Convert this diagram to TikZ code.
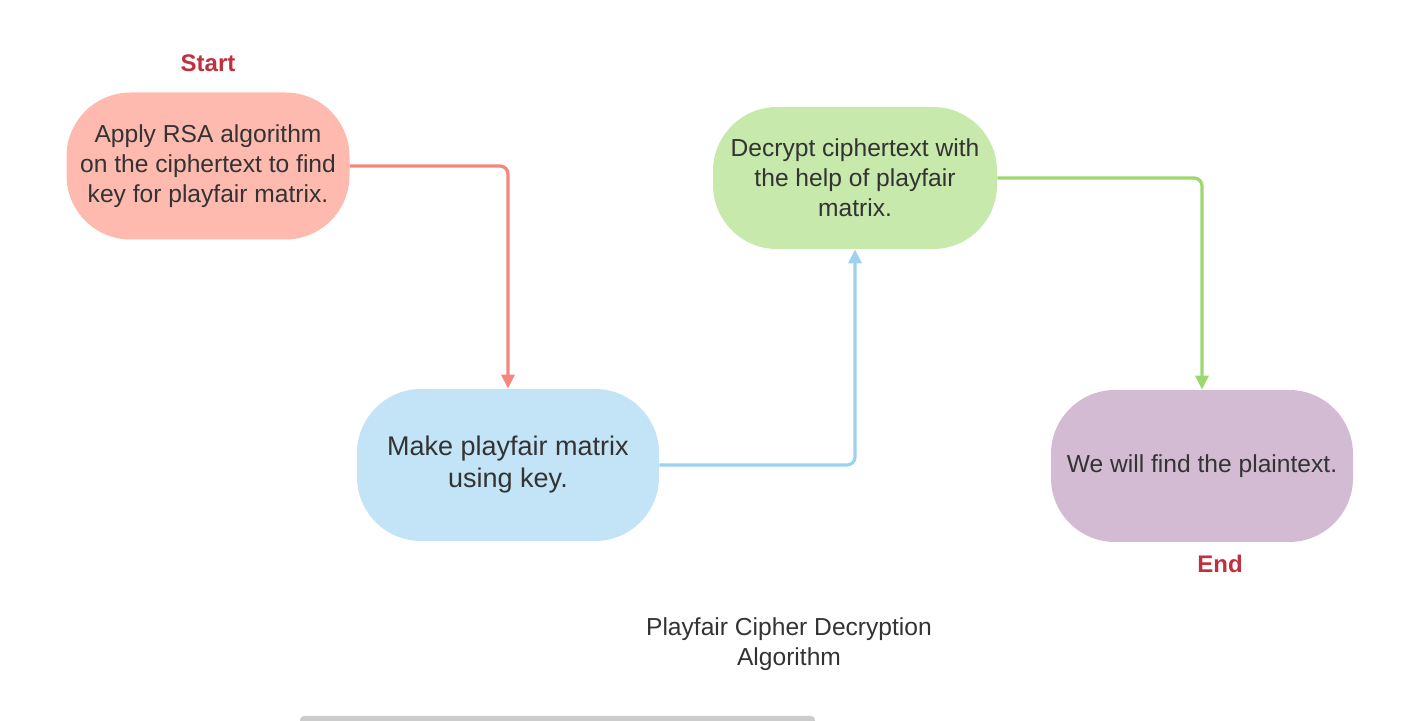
\documentclass[tikz,border=0pt]{standalone}
\usepackage{fontspec}
\setmainfont{Liberation Sans}
\usetikzlibrary{arrows.meta}

\definecolor{rsafill}{HTML}{FFBAB0}
\definecolor{rsaline}{HTML}{F4877B}
\definecolor{matfill}{HTML}{C2E4F6}
\definecolor{matline}{HTML}{9CD1F0}
\definecolor{decfill}{HTML}{C7E9AB}
\definecolor{decline}{HTML}{9BD86E}
\definecolor{plainfill}{HTML}{D3BCD3}
\definecolor{marktext}{HTML}{C0303E}
\definecolor{bodytext}{HTML}{333333}

\begin{document}
\begin{tikzpicture}[x=0.5pt, y=-0.5pt, > = {Triangle[length=7pt, width=6.5pt]},
    step box/.style = {rounded corners=32pt, inner sep=0pt, align=center, text=bodytext,
        font=\fontsize{12.3}{15}\selectfont},
    flow/.style = {line width=1.6pt, rounded corners=4pt, ->},
    marker/.style = {text=marktext, font=\fontsize{12}{14}\selectfont\bfseries}]

    \useasboundingbox (0,0) rectangle (1405,721);

    % boxes
    \node[step box, fill=rsafill, minimum width=141.5pt, minimum height=73.5pt] (rsa) at (208,166)
        {Apply RSA algorithm\\on the ciphertext to find\\key for playfair matrix.};
    \node[step box, fill=matfill, minimum width=151pt, minimum height=76pt,
        font=\fontsize{13.5}{16}\selectfont] (matrix) at (508,465)
        {Make playfair matrix\\using key.};
    \node[step box, fill=decfill, minimum width=142pt, minimum height=71pt] (decrypt) at (855,178)
        {Decrypt ciphertext with\\the help of playfair\\matrix.};
    \node[step box, fill=plainfill, minimum width=151pt, minimum height=76pt] (plain) at (1202,466)
        {We will find the plaintext.};

    % start and end
    \node[marker] (start) at (208,63) {Start};
    \node[marker] (end) at (1220,564) {End};

    % arrows
    \draw[flow, rsaline] (rsa.east) -| (matrix.north);
    \draw[flow, matline] (matrix.east) -| (decrypt.south);
    \draw[flow, decline] (decrypt.east) -| (plain.north);

    % title
    \node[align=center, text=bodytext, font=\fontsize{12.3}{15}\selectfont] (title) at (789,644)
        {Playfair Cipher Decryption\\Algorithm};

    \fill[black!20, rounded corners=2pt] (300,716) rectangle (815,726);

\end{tikzpicture}
\end{document}
